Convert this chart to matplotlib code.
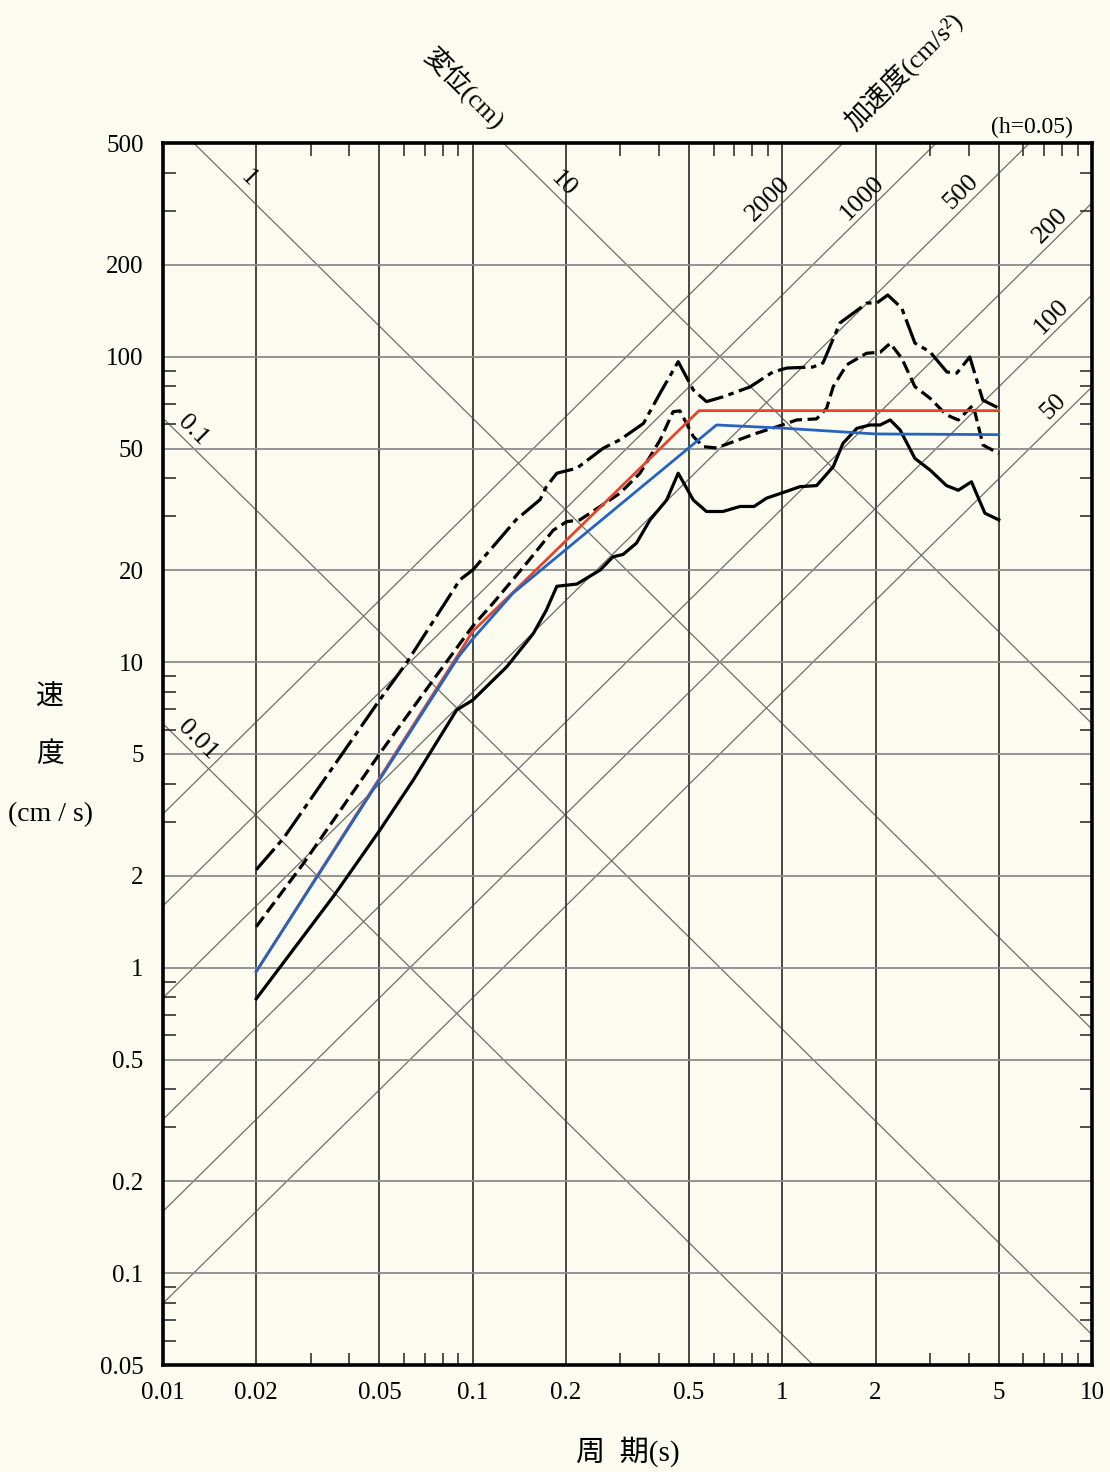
import numpy as np
import matplotlib.pyplot as plt
from matplotlib.ticker import FixedLocator, FixedFormatter, NullFormatter

plt.rcParams['font.family'] = ['Liberation Serif', 'Noto Sans CJK JP']
plt.rcParams['lines.scale_dashes'] = False

# period (s) / pseudo velocity (cm/s)
T_UPPER = [0.02, 0.0245, 0.032, 0.050, 0.061, 0.091, 0.100, 0.1165, 0.138, 0.165, 0.173,
           0.187, 0.217, 0.264, 0.299, 0.356, 0.403, 0.461, 0.516, 0.569, 0.643, 0.786,
           0.932, 1.035, 1.256, 1.353, 1.535, 1.877, 2.02, 2.19, 2.43, 2.68, 3.0, 3.40,
           3.66, 4.03, 4.44, 5.0]
SV_UPPER = [2.09, 2.65, 3.91, 7.5, 9.9, 18.6, 20.0, 23.9, 29.2, 34.0, 37.5,
            41.5, 43.1, 50.1, 53.4, 60.4, 75.9, 96.2, 77.7, 71.2, 73.8, 79.5,
            89.0, 91.7, 92.4, 95.3, 128.8, 149.7, 149.7, 159.0, 144.0, 110.7, 103.5, 89.0,
            88.3, 99.7, 72.0, 67.8]

T_MID = [0.02, 0.0284, 0.0502, 0.0746, 0.100, 0.1165, 0.149, 0.182, 0.201, 0.222, 0.258,
         0.299, 0.347, 0.403, 0.444, 0.467, 0.516, 0.556, 0.613, 0.694, 0.826, 1.0,
         1.112, 1.29, 1.39, 1.46, 1.613, 1.87, 2.07, 2.23, 2.43, 2.68, 3.0, 3.39,
         3.70, 4.13, 4.45, 5.0]
SV_MID = [1.36, 2.19, 5.03, 8.74, 13.1, 15.6, 21.0, 27.0, 28.8, 29.2, 32.3,
          35.7, 41.5, 53.3, 66.0, 66.4, 54.7, 50.7, 50.2, 52.6, 56.1, 59.7,
          62.0, 62.5, 67.7, 79.7, 93.9, 102.5, 103.3, 110.5, 98.7, 79.7, 73.0, 64.4,
          62.0, 69.4, 51.3, 48.2]

T_LOW = [0.02, 0.0355, 0.0502, 0.0643, 0.0888, 0.100, 0.129, 0.157, 0.173, 0.187, 0.217,
         0.258, 0.284, 0.306, 0.338, 0.374, 0.423, 0.461, 0.516, 0.569, 0.643, 0.73,
         0.81, 0.89, 1.0, 1.14, 1.29, 1.46, 1.57, 1.74, 1.92, 2.07, 2.23, 2.40,
         2.68, 3.0, 3.39, 3.70, 4.08, 4.51, 5.0]
SV_LOW = [0.79, 1.71, 2.82, 4.11, 6.97, 7.5, 9.66, 12.4, 14.8, 17.7, 18.0,
          20.0, 22.1, 22.5, 24.5, 29.2, 33.9, 41.5, 33.9, 31.1, 31.1, 32.3,
          32.3, 34.4, 35.8, 37.5, 37.8, 43.6, 52.0, 58.2, 59.7, 59.7, 62.0, 57.5,
          46.4, 42.5, 37.8, 36.5, 38.9, 30.7, 29.2]

T_RED = [0.02, 0.09, 0.10, 0.135, 0.538, 5.0]
SV_RED = [0.97, 10.6, 12.6, 16.9, 66.5, 66.5]

T_BLUE = [0.02, 0.09, 0.10, 0.135, 0.613, 1.0, 2.0, 5.0]
SV_BLUE = [0.97, 10.4, 11.9, 16.8, 59.7, 58.3, 55.8, 55.5]

# tripartite guide lines
DISP_LINES = [0.01, 0.1, 1, 10]              # cm
ACC_LINES = [50, 100, 200, 500, 1000, 2000]  # cm/s2

X_TICKS = [0.01, 0.02, 0.05, 0.1, 0.2, 0.5, 1, 2, 5, 10]
X_LABELS = ['0.01', '0.02', '0.05', '0.1', '0.2', '0.5', '1', '2', '5', '10']
Y_TICKS = [0.05, 0.1, 0.2, 0.5, 1, 2, 5, 10, 20, 50, 100, 200, 500]
Y_LABELS = ['0.05', '0.1', '0.2', '0.5', '1', '2', '5', '10', '20', '50', '100', '200', '500']

# where along each guide line its label sits (period, s)
DISP_LABEL_T = [0.01213, 0.01172, 0.01762, 0.1838]
ACC_LABEL_T = [8.05, 7.9, 7.85, 4.05, 1.93, 0.964]

PAPER = '#fbfbf0'
W, H = 1110, 1472

fig = plt.figure(figsize=(W / 100, H / 100), dpi=100, facecolor=PAPER)
ax = fig.add_axes([163 / W, 1 - 1365 / H, (1092 - 163) / W, (1365 - 143) / H])
ax.set_facecolor(PAPER)
ax.set_xscale('log')
ax.set_yscale('log')

tt = np.array([1e-3, 1e2])
for d in DISP_LINES:
    ax.plot(tt, 2 * np.pi * d / tt, color='#6e6e6e', lw=0.9, zorder=1)
for a in ACC_LINES:
    ax.plot(tt, a * tt / (2 * np.pi), color='#6e6e6e', lw=0.9, zorder=1)

for d, t in zip(DISP_LINES, DISP_LABEL_T):
    ax.annotate('{:g}'.format(d), xy=(t, 2 * np.pi * d / t), xytext=(6.5, 6.5),
                textcoords='offset points', rotation=-45, rotation_mode='anchor',
                ha='center', va='center', fontsize=19, zorder=2)
for a, t in zip(ACC_LINES, ACC_LABEL_T):
    ax.annotate('{:g}'.format(a), xy=(t, a * t / (2 * np.pi)), xytext=(-6.5, 6.5),
                textcoords='offset points', rotation=45, rotation_mode='anchor',
                ha='center', va='center', fontsize=19, zorder=2)

ax.plot(T_UPPER, SV_UPPER, color='black', lw=2.3, dashes=(20, 4, 4, 4), zorder=4)
ax.plot(T_MID, SV_MID, color='black', lw=2.3, dashes=(9, 4), zorder=4)
ax.plot(T_LOW, SV_LOW, color='black', lw=2.3, zorder=4)
ax.plot(T_RED, SV_RED, color='#e4442c', lw=2.0, zorder=5)
ax.plot(T_BLUE, SV_BLUE, color='#2464c0', lw=2.0, zorder=5)

ax.set_xlim(0.01, 10)
ax.set_ylim(0.05, 500)

ax.xaxis.set_major_locator(FixedLocator(X_TICKS))
ax.xaxis.set_major_formatter(FixedFormatter(X_LABELS))
ax.yaxis.set_major_locator(FixedLocator(Y_TICKS))
ax.yaxis.set_major_formatter(FixedFormatter(Y_LABELS))

minor_x = [m * dec for dec in [0.01, 0.1, 1] for m in (3, 4, 6, 7, 8, 9)]
minor_y = [m * dec for dec in [0.01, 0.1, 1, 10, 100] for m in (3, 4, 6, 7, 8, 9)]
ax.xaxis.set_minor_locator(FixedLocator(minor_x))
ax.yaxis.set_minor_locator(FixedLocator(minor_y))
ax.xaxis.set_minor_formatter(NullFormatter())
ax.yaxis.set_minor_formatter(NullFormatter())

ax.tick_params(which='major', length=0, labelsize=18)
ax.tick_params(axis='x', which='major', pad=12)
ax.tick_params(axis='y', which='major', pad=14)
ax.tick_params(which='minor', direction='in', length=9, width=1.2, color='#333333',
               top=True, right=True, bottom=True, left=True)

ax.xaxis.grid(True, which='major', color='#474747', lw=1.4)
ax.yaxis.grid(True, which='major', color='#8c8c8c', lw=1.3)
for sp in ax.spines.values():
    sp.set_linewidth(2.6)
    sp.set_zorder(6)

fig.text(50 / W, 1 - 697 / H, '速', ha='center', va='center', fontsize=20)
fig.text(50 / W, 1 - 755 / H, '度', ha='center', va='center', fontsize=20)
fig.text(50 / W, 1 - 815 / H, '(cm / s)', ha='center', va='center', fontsize=20)
fig.text(628 / W, 1 - 1452 / H, '周  期(s)', ha='center', va='center', fontsize=21)
fig.text(465 / W, 1 - 88 / H, '変位(cm)', ha='center', va='center', fontsize=19,
         rotation=-45, rotation_mode='anchor')
fig.text(903 / W, 1 - 70 / H, '加速度(cm/s²)', ha='center', va='center', fontsize=19,
         rotation=45, rotation_mode='anchor')
fig.text(1032 / W, 1 - 127 / H, '(h=0.05)', ha='center', va='center', fontsize=17)

fig.savefig('out.png', dpi=100, facecolor=PAPER)
